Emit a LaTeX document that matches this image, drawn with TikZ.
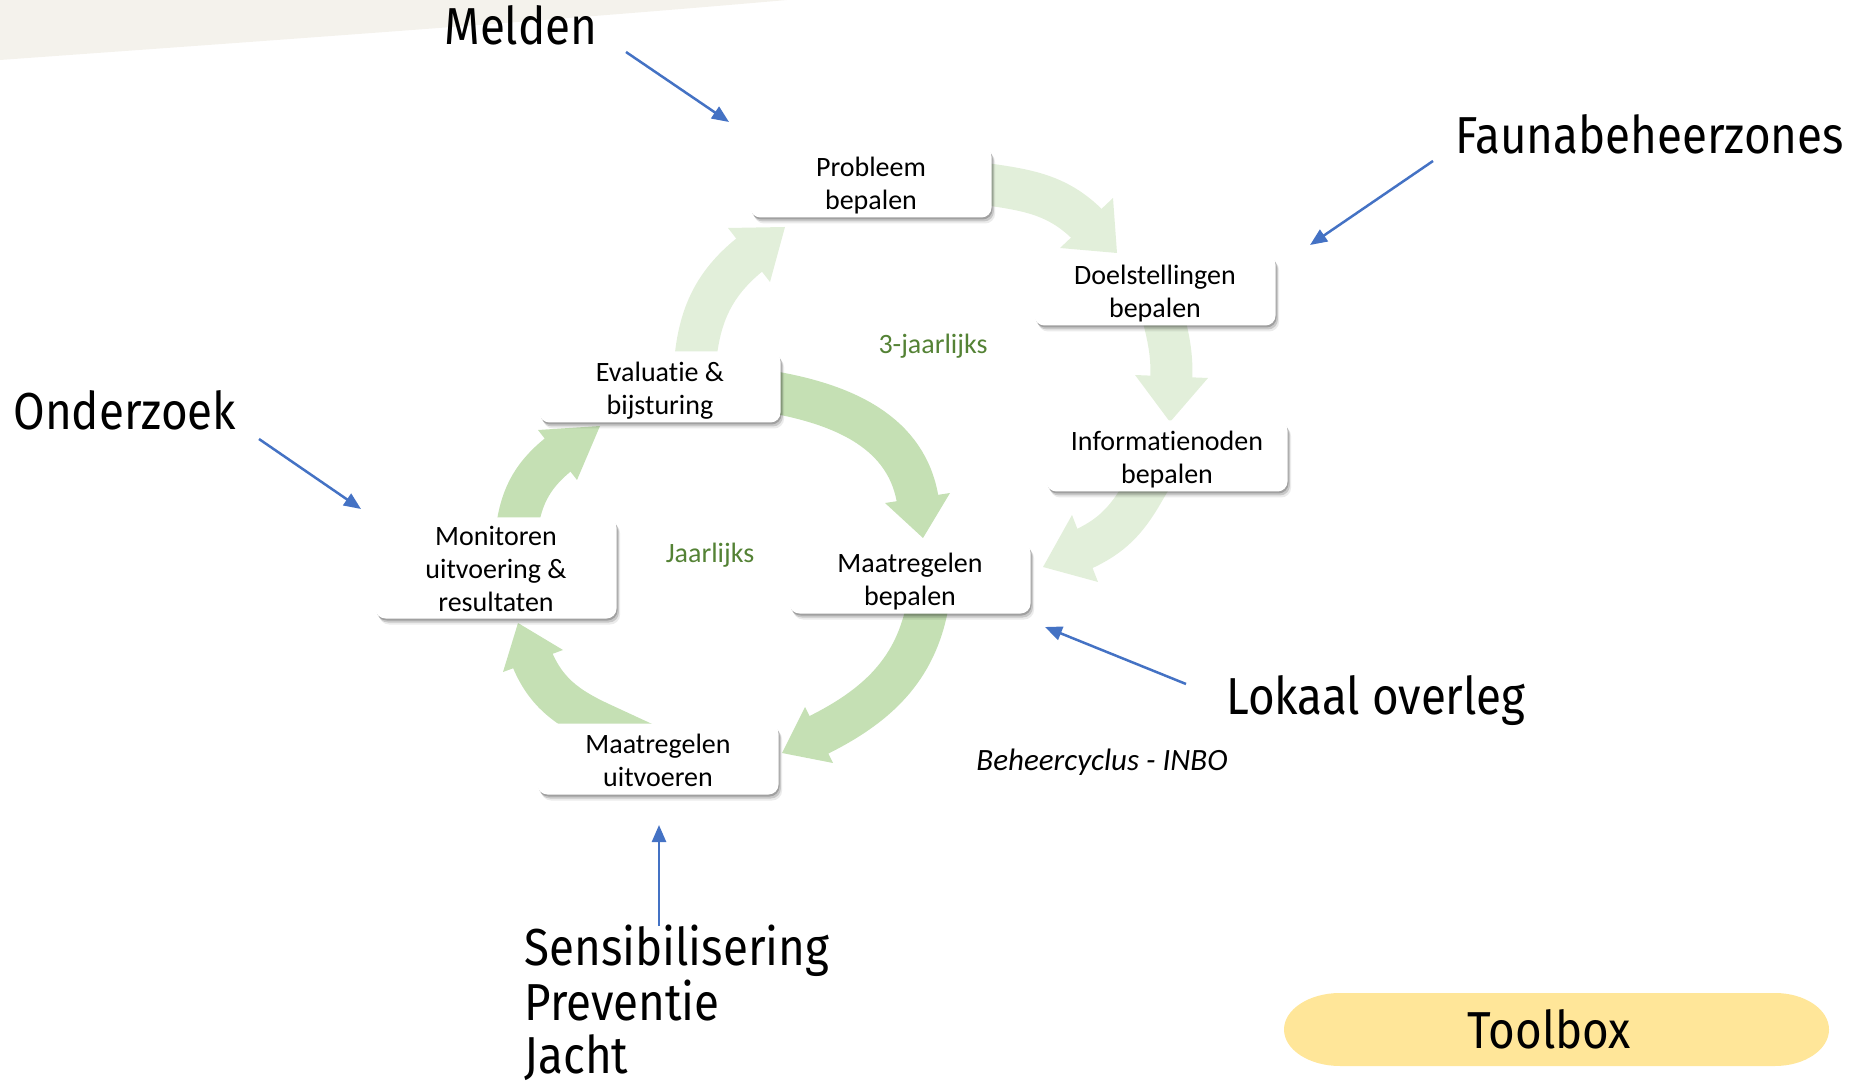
\documentclass[tikz,border=0pt]{standalone}
\usepackage{fontspec}
\setmainfont{Carlito}[Ligatures=NoCommon]
\newfontfamily\thinfont{Fira Sans}[FakeStretch=0.88]
\usetikzlibrary{arrows.meta,shadows}
\definecolor{outerg}{HTML}{E2EFDA}
\definecolor{innerg}{HTML}{C5E0B4}
\definecolor{labg}{HTML}{548235}
\definecolor{blueA}{HTML}{4472C4}
\definecolor{beige}{HTML}{F4F2EC}
\definecolor{tbox}{HTML}{FFE699}
\newcommand{\toprl}{\rule{0pt}{13.8pt}}
\newcommand{\botrl}{\rule[-3.2pt]{0pt}{0pt}}
\tikzset{
  stepbox/.style={fill=white, rounded corners=5pt, minimum width=120.5pt,
    minimum height=35.5pt, align=center, inner sep=0pt,
    font=\fontsize{14pt}{16.5pt}\selectfont,
    drop shadow={shadow xshift=0.5pt, shadow yshift=-1pt, opacity=0.2, fill=black},
    drop shadow={shadow xshift=1.2pt, shadow yshift=-2pt, opacity=0.15, fill=black},
    drop shadow={shadow xshift=1.8pt, shadow yshift=-3pt, opacity=0.08, fill=black}},
  biglabel/.style={inner sep=0pt, anchor=base west, font=\thinfont\fontsize{26pt}{29pt}\selectfont},
  greenlabel/.style={inner sep=0pt, text=labg, font=\fontsize{14pt}{16.5pt}\selectfont},
  outerband/.style={draw=outerg, line width=21pt},
  innerband/.style={draw=innerg, line width=21pt},
  bluearrow/.style={draw=blueA, line width=1.25pt, -{Triangle[length=8.5pt,width=7pt]}}
}
\begin{document}
\begin{tikzpicture}[x=0.5pt,y=0.5pt]
\useasboundingbox (0,0) rectangle (1856,1088);
% background shape
\fill[beige] (0,1088) -- (787,1088) .. controls (560,1068) and (250,1046) .. (0,1028) -- cycle;
% toolbox shape
\fill[tbox] (1340,95) -- (1775,95) arc[start angle=90, end angle=-90, x radius=27pt, y radius=18.25pt]
  -- (1340,22) arc[start angle=270, end angle=90, x radius=28pt, y radius=18.25pt] -- cycle;

% outer cycle arrows (3-jaarlijks)
\draw[outerband] (985,904) to[out=-8,in=134] (1090,861);
\fill[outerg] (1060,840) -- (1113,890) -- (1117,835) -- cycle;
\draw[outerband] (1163,772) to[out=-76,in=88] (1171.3,706.5);
\fill[outerg] (1135,713) -- (1208,710) -- (1170,666) -- cycle;
\draw[outerband] (1153,613) -- (1143,596) to[out=240,in=24] (1080.4,537.5);
\fill[outerg] (1072,573) -- (1098,506) -- (1043,521) -- cycle;
\draw[outerband] (695,725) to[out=85,in=218] (753,836);
\fill[outerg] (728,860) -- (770,806) -- (785,861) -- cycle;

% inner cycle arrows (jaarlijks)
\draw[innerband] (772,696) to[out=-10,in=98] (918.2,585);
\fill[innerg] (885,585) -- (950,595) -- (923,550) -- cycle;
\draw[innerband] (928,485) to[out=260,in=26] (814.5,351);
\fill[innerg] (805,381) -- (833,325) -- (782,335) -- cycle;
\draw[innerband] (654,340) -- (600,365) to[out=155,in=291.5] (531,431.6);
\fill[innerg] (503,416) -- (563,438) -- (518,465) -- cycle;
\draw[innerband] (517,560) to[out=82,in=218] (561.4,636);
\fill[innerg] (538,658) -- (577,608) -- (600,662) -- cycle;

% step boxes
\node[stepbox] (prob) at (871,906) {\toprl Probleem\\bepalen\botrl};
\node[stepbox] (doel) at (1155,798) {\toprl Doelstellingen\\bepalen\botrl};
\node[stepbox] (info) at (1167,632) {\toprl Informatienoden\\bepalen\botrl};
\node[stepbox] (mbep) at (910,510) {\toprl Maatregelen\\bepalen\botrl};
\node[stepbox] (muit) at (658,329) {\toprl Maatregelen\\uitvoeren\botrl};
\node[stepbox, minimum height=50.5pt] (moni) at (496,520) {\toprl Monitoren\\uitvoering \&\\resultaten\botrl};
\node[stepbox] (eval) at (660,701) {\toprl Evaluatie \&\\bijsturing\botrl};

% cycle labels
\node[greenlabel] (drie) at (933,742) {3-jaarlijks};
\node[greenlabel] (jaar) at (710,533) {Jaarlijks};
\node[inner sep=0pt, font=\itshape\fontsize{15.5pt}{18pt}\selectfont] (bron) at (1102,326) {Beheercyclus - INBO};

% big labels
\node[biglabel] (melden) at (444,1043) {Melden};
\node[biglabel] (fauna) at (1455,934) {Faunabeheerzones};
\node[biglabel] (onder) at (13,658) {Onderzoek};
\node[biglabel] (lokaal) at (1226,374) {Lokaal overleg};
\node[biglabel] (sens) at (524,123) {Sensibilisering};
\node[biglabel] (prev) at (524,68) {Preventie};
\node[biglabel] (jacht) at (524,15) {Jacht};
\node[biglabel] (tool) at (1467,40) {Toolbox};

% blue arrows
\coordinate (m1) at (626,1036); \coordinate (m2) at (729,966);
\coordinate (f1) at (1433,927); \coordinate (f2) at (1310,843);
\coordinate (o1) at (259,649);  \coordinate (o2) at (361,579);
\coordinate (l1) at (1186,404); \coordinate (l2) at (1045,461);
\coordinate (s1) at (659,162);  \coordinate (s2) at (659,263);
\draw[bluearrow] (m1) -- (m2);
\draw[bluearrow] (f1) -- (f2);
\draw[bluearrow] (o1) -- (o2);
\draw[bluearrow] (l1) -- (l2);
\draw[bluearrow] (s1) -- (s2);
\end{tikzpicture}
\end{document}
